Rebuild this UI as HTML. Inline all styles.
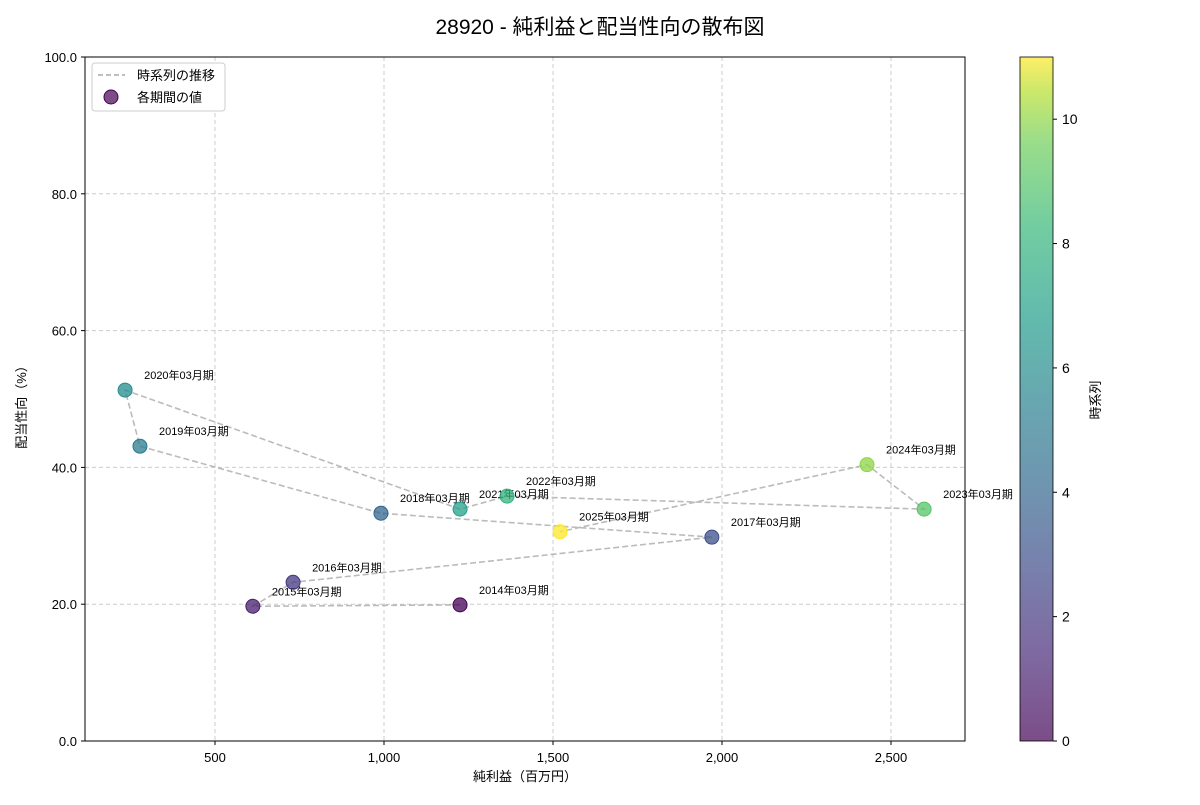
<!DOCTYPE html>
<html><head><meta charset="utf-8">
<style>
body{margin:0;background:#fff;}
svg text{font-family:"Liberation Sans","Noto Sans CJK JP",sans-serif;}
</style></head>
<body>
<svg id="chart" width="1200" height="800" xmlns="http://www.w3.org/2000/svg">
<defs>
<linearGradient id="vir" x1="0" y1="1" x2="0" y2="0">
<stop offset="0" stop-color="#440154"/><stop offset="0.125" stop-color="#482878"/><stop offset="0.25" stop-color="#3e4989"/><stop offset="0.375" stop-color="#31688e"/><stop offset="0.5" stop-color="#26828e"/><stop offset="0.625" stop-color="#1f9e89"/><stop offset="0.75" stop-color="#35b779"/><stop offset="0.875" stop-color="#6ece58"/><stop offset="0.95" stop-color="#b5de2b"/><stop offset="1" stop-color="#fde725"/>
</linearGradient>
</defs>
<text x="600" y="34" font-size="21" text-anchor="middle">28920 - 純利益と配当性向の散布図</text>
<g id="grid"></g>
<g id="marks"></g>
<rect x="85" y="57" width="880" height="684" fill="none" stroke="#000" stroke-width="1"/>
<text x="525" y="781" font-size="13" text-anchor="middle">純利益（百万円）</text>
<text transform="translate(26,404) rotate(-90)" font-size="13" text-anchor="middle">配当性向（%）</text>
<g>
<rect x="92" y="63" width="133" height="48" fill="#fff" stroke="#ccc" rx="3"/>
<line x1="98" y1="75" x2="125" y2="75" stroke="#aaa" stroke-dasharray="5,3" stroke-width="1.5"/>
<text x="137" y="80" font-size="13">時系列の推移</text>
<circle cx="111" cy="97" r="7" fill="#440154" fill-opacity="0.7" stroke="#440154"/>
<text x="137" y="102" font-size="13">各期間の値</text>
</g>
<rect x="1020" y="57" width="33" height="684" fill="url(#vir)" opacity="0.7"/>
<rect x="1020" y="57" width="33" height="684" fill="none" stroke="#000" stroke-width="0.8"/>
<g id="cbticks"></g>
<text transform="translate(1100,400) rotate(-90)" font-size="13" text-anchor="middle">時系列</text>
</svg>
<script>
const labels=["2014年03月期","2015年03月期","2016年03月期","2017年03月期","2018年03月期","2019年03月期","2020年03月期","2021年03月期","2022年03月期","2023年03月期","2024年03月期","2025年03月期"];
const netIncome=[1225,612,731,1970,991,278,234,1225,1364,2598,2429,1521];
const payout=[19.9,19.7,23.2,29.8,33.3,43.1,51.3,33.9,35.8,33.9,40.4,30.6];
const xTicks=[500,1000,1500,2000,2500];
const yTicks=[0,20,40,60,80,100];
const cbTicks=[0,2,4,6,8,10];
const labelOffsets=[[19,-15],[19,-15],[19,-15],[19,-15],[19,-15],[19,-15],[19,-15],[19,-15],[19,-15],[19,-15],[19,-15],[19,-15]];
const ns="http://www.w3.org/2000/svg";
const X=v=>46+v*0.338, Y=v=>741-v*6.84, CB=v=>741-v*62.18;
const stops=[[0,[68,1,84]],[0.125,[72,40,120]],[0.25,[62,73,137]],[0.375,[49,104,142]],[0.5,[38,130,142]],[0.625,[31,158,137]],[0.75,[53,183,121]],[0.875,[110,206,88]],[0.95,[181,222,43]],[1,[253,231,37]]];
function vir(t){for(let i=1;i<stops.length;i++){if(t<=stops[i][0]){const a=stops[i-1],b=stops[i],f=(t-a[0])/(b[0]-a[0]);return 'rgb('+a[1].map((c,k)=>Math.round(c+(b[1][k]-c)*f)).join(',')+')';}}return 'rgb(253,231,37)';}
function mk(tag,attrs,parent,txt){const e=document.createElementNS(ns,tag);for(const k in attrs)e.setAttribute(k,attrs[k]);if(txt!==undefined)e.textContent=txt;parent.appendChild(e);return e;}
const grid=document.getElementById('grid'),marks=document.getElementById('marks'),cbt=document.getElementById('cbticks');
xTicks.forEach(v=>{
const g=mk('line',{x1:X(v),x2:X(v),y1:57,y2:741,stroke:'#ccc','stroke-dasharray':'4,3'},grid);


mk('line',{x1:X(v),x2:X(v),y1:741,y2:745,stroke:'#000'},grid);
const t=mk('text',{x:X(v),y:762,'font-size':13,'text-anchor':'middle'},grid,v.toLocaleString('en-US'));


});
yTicks.forEach(v=>{
if(v>0&&v<100){const g=mk('line',{x1:85,x2:965,y1:Y(v),y2:Y(v),stroke:'#ccc','stroke-dasharray':'4,3'},grid);

}
mk('line',{x1:81,x2:85,y1:Y(v),y2:Y(v),stroke:'#000'},grid);
const t=mk('text',{x:77,y:Y(v)+5,'font-size':13,'text-anchor':'end'},grid,v.toFixed(1));


});
const pts=netIncome.map((v,i)=>X(v)+','+Y(payout[i])).join(' ');
const pl=mk('polyline',{points:pts,fill:'none',stroke:'#aaa','stroke-width':1.6,'stroke-dasharray':'6,3',opacity:0.8},marks);


netIncome.forEach((v,i)=>{
const c=vir(i/11);
const p=mk('circle',{cx:X(v),cy:Y(payout[i]),r:7,fill:c,'fill-opacity':0.75,stroke:c},marks);


const t=mk('text',{x:X(v)+labelOffsets[i][0],y:Y(payout[i])+labelOffsets[i][1]+4,'font-size':11},marks,labels[i]);


});
cbTicks.forEach(v=>{
mk('line',{x1:1053,x2:1057,y1:CB(v),y2:CB(v),stroke:'#000'},cbt);
const t=mk('text',{x:1062,y:CB(v)+5,'font-size':14},cbt,String(v));


});
</script>
</body></html>
